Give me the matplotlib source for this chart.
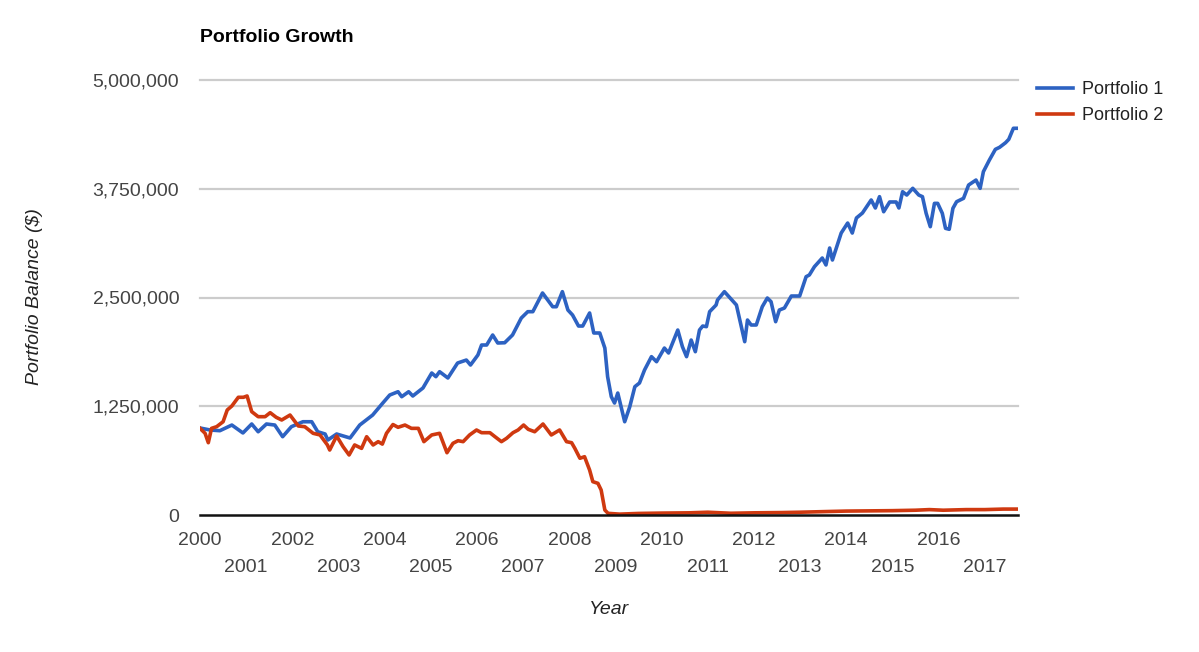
import matplotlib
matplotlib.use("Agg")
import matplotlib.pyplot as plt
from matplotlib.ticker import FuncFormatter, FixedLocator

plt.rcParams['font.family'] = ['Liberation Sans', 'DejaVu Sans']

# ---- data (decimal year, balance in $) ----
p1_years = [2000.00, 2000.22, 2000.43, 2000.69, 2000.93, 2001.12, 2001.26, 2001.44, 2001.62, 2001.79,
            2001.98, 2002.23, 2002.42, 2002.55, 2002.71, 2002.77, 2002.96, 2003.25, 2003.46, 2003.74,
            2003.96, 2004.11, 2004.29, 2004.37, 2004.52, 2004.61, 2004.83, 2005.02, 2005.11, 2005.19,
            2005.37, 2005.58, 2005.77, 2005.86, 2006.02, 2006.10, 2006.21, 2006.34, 2006.45, 2006.60,
            2006.77, 2006.96, 2007.10, 2007.21, 2007.42, 2007.64, 2007.72, 2007.85, 2007.97, 2008.07,
            2008.20, 2008.29, 2008.44, 2008.53, 2008.66, 2008.77, 2008.83, 2008.91, 2008.98, 2009.05,
            2009.20, 2009.31, 2009.42, 2009.52, 2009.63, 2009.78, 2009.89, 2010.06, 2010.15, 2010.35,
            2010.45, 2010.54, 2010.64, 2010.73, 2010.82, 2010.89, 2010.97, 2011.04, 2011.18, 2011.21,
            2011.36, 2011.62, 2011.80, 2011.86, 2011.94, 2012.05, 2012.18, 2012.29, 2012.37, 2012.47,
            2012.55, 2012.66, 2012.81, 2012.99, 2013.13, 2013.20, 2013.31, 2013.48, 2013.56, 2013.64,
            2013.70, 2013.89, 2014.03, 2014.13, 2014.22, 2014.35, 2014.54, 2014.63, 2014.72, 2014.81,
            2014.94, 2015.08, 2015.14, 2015.22, 2015.31, 2015.44, 2015.57, 2015.65, 2015.73, 2015.82,
            2015.91, 2015.98, 2016.08, 2016.15, 2016.23, 2016.31, 2016.39, 2016.54, 2016.65, 2016.81,
            2016.90, 2016.97, 2017.10, 2017.23, 2017.32, 2017.45, 2017.52, 2017.62, 2017.71]
p1_values = [1000000, 977000, 969000, 1034000, 943000, 1046000, 957000, 1046000, 1034000, 900000,
             1015000, 1072000, 1072000, 957000, 931000, 862000, 931000, 885000, 1034000, 1149000,
             1287000, 1379000, 1417000, 1360000, 1417000, 1368000, 1460000, 1632000, 1590000, 1647000,
             1575000, 1747000, 1781000, 1724000, 1839000, 1954000, 1954000, 2069000, 1977000, 1980000,
             2069000, 2264000, 2337000, 2337000, 2552000, 2394000, 2394000, 2567000, 2356000, 2299000,
             2172000, 2172000, 2322000, 2092000, 2092000, 1919000, 1590000, 1360000, 1287000, 1402000,
             1072000, 1245000, 1475000, 1517000, 1667000, 1820000, 1762000, 1919000, 1862000, 2126000,
             1935000, 1820000, 2011000, 1877000, 2126000, 2172000, 2165000, 2337000, 2414000, 2471000,
             2567000, 2414000, 1992000, 2241000, 2184000, 2184000, 2394000, 2494000, 2452000, 2222000,
             2356000, 2379000, 2517000, 2517000, 2739000, 2759000, 2854000, 2954000, 2874000, 3069000,
             2931000, 3241000, 3356000, 3241000, 3414000, 3471000, 3621000, 3529000, 3659000, 3486000,
             3598000, 3598000, 3529000, 3716000, 3678000, 3755000, 3678000, 3659000, 3468000, 3314000,
             3582000, 3582000, 3468000, 3295000, 3284000, 3525000, 3601000, 3640000, 3793000, 3850000,
             3755000, 3946000, 4080000, 4203000, 4226000, 4279000, 4318000, 4445000, 4445000]

p2_years = [2000.00, 2000.11, 2000.18, 2000.25, 2000.36, 2000.50, 2000.59, 2000.69, 2000.83, 2000.94,
            2001.02, 2001.12, 2001.26, 2001.41, 2001.52, 2001.65, 2001.77, 2001.95, 2002.13, 2002.27,
            2002.45, 2002.60, 2002.76, 2002.81, 2002.96, 2003.10, 2003.23, 2003.35, 2003.50, 2003.61,
            2003.75, 2003.86, 2003.95, 2004.04, 2004.18, 2004.29, 2004.44, 2004.58, 2004.73, 2004.85,
            2005.02, 2005.19, 2005.35, 2005.48, 2005.59, 2005.70, 2005.84, 2005.99, 2006.10, 2006.28,
            2006.39, 2006.53, 2006.64, 2006.78, 2006.89, 2007.01, 2007.11, 2007.25, 2007.43, 2007.61,
            2007.79, 2007.94, 2008.05, 2008.12, 2008.23, 2008.33, 2008.44, 2008.51, 2008.62, 2008.69,
            2008.77, 2008.84, 2009.09, 2009.50, 2010.00, 2010.60, 2011.00, 2011.50, 2012.00, 2012.60,
            2013.00, 2013.60, 2014.00, 2014.60, 2015.00, 2015.50, 2015.80, 2016.10, 2016.60, 2017.00,
            2017.40, 2017.71]
p2_values = [996000, 939000, 831000, 996000, 1015000, 1072000, 1207000, 1253000, 1353000, 1353000,
             1368000, 1188000, 1130000, 1130000, 1176000, 1123000, 1092000, 1149000, 1023000, 1015000,
             939000, 920000, 805000, 747000, 908000, 785000, 690000, 805000, 766000, 900000,
             805000, 843000, 815000, 939000, 1040000, 1008000, 1034000, 996000, 996000, 843000,
             920000, 939000, 716000, 824000, 854000, 843000, 920000, 977000, 946000, 946000,
             900000, 843000, 881000, 946000, 977000, 1034000, 985000, 957000, 1046000, 920000,
             977000, 843000, 831000, 766000, 652000, 670000, 517000, 383000, 364000, 287000,
             57000, 19000, 10000, 18000, 22000, 25000, 32000, 20000, 25000, 28000,
             32000, 40000, 45000, 48000, 50000, 55000, 62000, 55000, 62000, 62000,
             68000, 68000]

series_names = ["Portfolio 1", "Portfolio 2"]
series_colors = ["#2d62c2", "#cf3910"]

y_ticks = [0, 1250000, 2500000, 3750000, 5000000]
x_even = [2000, 2002, 2004, 2006, 2008, 2010, 2012, 2014, 2016]
x_odd = [2001, 2003, 2005, 2007, 2009, 2011, 2013, 2015, 2017]

W, H = 1199, 652
fig = plt.figure(figsize=(W / 100, H / 100), dpi=100)
fig.patch.set_facecolor("white")
ax = fig.add_axes([200 / W, (H - 515) / H, 818 / W, 435 / H])

for yv in y_ticks[1:]:
    ax.axhline(yv, color="#cccccc", lw=1.6, zorder=1, clip_on=False)
ax.axhline(0, color="#111111", lw=1.8, zorder=4, clip_on=False)

ax.plot(p1_years, p1_values, color=series_colors[0], lw=2.6, label=series_names[0], zorder=3,
        solid_joinstyle="round")
ax.plot(p2_years, p2_values, color=series_colors[1], lw=2.6, label=series_names[1], zorder=3,
        solid_joinstyle="round")

ax.set_xlim(2000, 2017.72)
ax.set_ylim(0, 5000000)
for s in ax.spines.values():
    s.set_visible(False)

ax.yaxis.set_major_locator(FixedLocator(y_ticks))
ax.yaxis.set_major_formatter(FuncFormatter(lambda v, p: f"{int(v):,}"))
ax.tick_params(axis="y", length=0, pad=15, labelsize=14, labelcolor="#444444")

ax.xaxis.set_major_locator(FixedLocator(x_even))
ax.xaxis.set_minor_locator(FixedLocator(x_odd))
ax.xaxis.set_major_formatter(FuncFormatter(lambda v, p: f"{int(round(v))}"))
ax.xaxis.set_minor_formatter(FuncFormatter(lambda v, p: f"{int(round(v))}"))
ax.tick_params(axis="x", which="major", length=0, pad=12, labelsize=14, labelcolor="#444444")
ax.tick_params(axis="x", which="minor", length=0, pad=32, labelsize=14, labelcolor="#444444")

fig.text(200 / W, (H - 37) / H, "Portfolio Growth", fontsize=14, fontweight="bold",
         ha="left", va="center", color="#000000")
fig.text(35 / W, (H - 297) / H, "Portfolio Balance ($)", fontsize=14, fontstyle="italic",
         rotation=90, ha="center", va="center", color="#222222")
fig.text(609 / W, (H - 610) / H, "Year", fontsize=14, fontstyle="italic",
         ha="center", va="center", color="#222222")

leg = ax.legend(loc="upper left", bbox_to_anchor=(1030 / W, (H - 74) / H),
                bbox_transform=fig.transFigure, frameon=False, fontsize=13,
                handlelength=2.0, handletextpad=0.5, labelspacing=0.5, borderaxespad=0)
for t in leg.get_texts():
    t.set_color("#222222")

fig.savefig("out.png", dpi=100, facecolor="white")
